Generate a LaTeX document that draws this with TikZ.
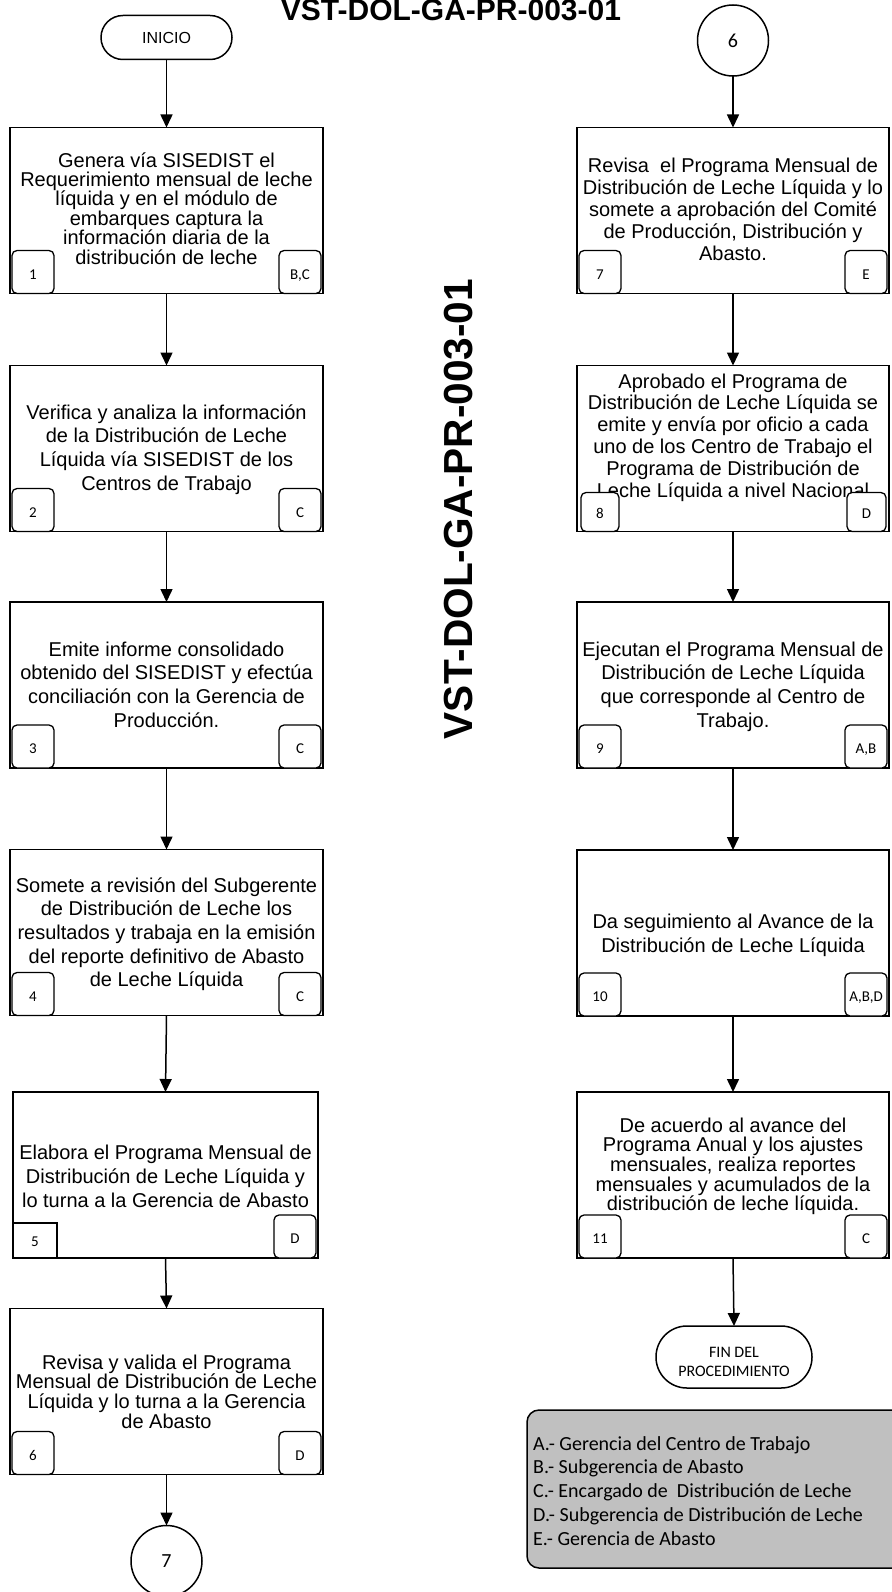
\documentclass[tikz,border=0pt]{standalone}
\usepackage{fontspec}
\setmainfont{Liberation Sans}
\newfontfamily\calfont{Carlito}
\usetikzlibrary{arrows.meta}

% centred block of lines with a fixed baseline distance; baseline of the node = first line
\newcommand\txtblock[2]{\vtop{\baselineskip=#1pt\lineskiplimit=-100pt\lineskip=0pt\let\\\cr\halign{\hfil##\hfil\cr#2\crcr}}}
% left aligned variant for the legend
\newcommand\txtleft[2]{\vtop{\baselineskip=#1pt\lineskiplimit=-100pt\lineskip=0pt\let\\\cr\halign{##\hfil\cr#2\crcr}}}

\definecolor{legendgray}{RGB}{192,192,192}

\tikzset{
  stepbox/.style={draw, fill=white, line width=1.6pt, minimum width=313pt, minimum height=166pt, inner sep=0pt, outer sep=0pt},
  rstepbox/.style={stepbox, minimum width=312pt},
  txt/.style={inner sep=0pt, outer sep=0pt, font=\fontsize{20}{24}\selectfont},
  tag/.style={draw, fill=white, line width=1.3pt, rounded corners=5pt, minimum width=42pt, minimum height=43pt, inner sep=0pt, outer sep=0pt, text height=14pt, text depth=0pt, font=\calfont\fontsize{15}{18}\selectfont},
  terminal/.style={draw, fill=white, line width=1.5pt, inner sep=0pt, outer sep=0pt},
  conn/.style={draw, circle, fill=white, line width=1.5pt, minimum size=71pt, inner sep=0pt, outer sep=0pt, font=\calfont\fontsize{20}{24}\selectfont},
  arr/.style={line width=1.5pt, -{Triangle[length=13pt,width=12pt]}},
}

\begin{document}
\begin{tikzpicture}[x=1pt,y=-1pt]
\useasboundingbox (0,0) rectangle (891,1592);

% headings
\node[anchor=base, inner sep=0pt, font=\bfseries\fontsize{30}{36}\selectfont] (title) at (451,21) {VST-DOL-GA-PR-003-01};
\node[anchor=base, inner sep=0pt, rotate=90, font=\bfseries\fontsize{40.6}{47}\selectfont] (vtitle) at (472,509) {VST-DOL-GA-PR-003-01};

% start / connectors / end
\node[terminal, rounded corners=21.9pt, minimum width=131pt, minimum height=44pt, font=\fontsize{16}{19}\selectfont] (ini) at (166.5,37.5) {INICIO};
\node[conn] (c6) at (733,40.5) {6};
\node[conn] (c7) at (166.5,1561) {7};
\node[terminal, rounded corners=30.9pt, minimum width=156pt, minimum height=62pt] (fin) at (734,1357) {};
\node[inner sep=0pt, anchor=base, font=\calfont\fontsize{16}{19}\selectfont] (fint) at (734,1357) {\txtblock{19}{FIN DEL\\PROCEDIMIENTO}};

% left column boxes
\node[stepbox] (b1) at (166.5,210.5) {};
\node[stepbox] (b2) at (166.5,448.5) {};
\node[stepbox] (b3) at (166.5,685) {};
\node[stepbox] (b4) at (166.5,932.5) {};
\node[stepbox, minimum width=305pt] (b5) at (165.5,1175) {};
\node[stepbox] (b6) at (166.5,1391.5) {};

% right column boxes
\node[rstepbox] (b7) at (733,210.5) {};
\node[rstepbox] (b8) at (733,448.5) {};
\node[rstepbox] (b9) at (733,685) {};
\node[rstepbox] (b10) at (733,933) {};
\node[rstepbox] (b11) at (733,1175) {};

% box texts
\node[txt, anchor=base] (t1) at (166.5,167) {\txtblock{19.4}{Genera vía SISEDIST el\\Requerimiento mensual de leche\\líquida y en el módulo de\\embarques captura la\\información diaria de la\\distribución de leche}};
\node[txt, anchor=base] (t2) at (166.5,419) {\txtblock{23.7}{Verifica y analiza la información\\de la Distribución de Leche\\Líquida vía SISEDIST de los\\Centros de Trabajo}};
\node[txt, anchor=base] (t3) at (166.5,656) {\txtblock{23.7}{Emite informe consolidado\\obtenido del SISEDIST y efectúa\\conciliación con la Gerencia de\\Producción.}};
\node[txt, anchor=base] (t4) at (166.5,892) {\txtblock{23.7}{Somete a revisión del Subgerente\\de Distribución de Leche los\\resultados y trabaja en la emisión\\del reporte definitivo de Abasto\\de Leche Líquida}};
\node[txt, anchor=base] (t5) at (165.5,1159) {\txtblock{24}{Elabora el Programa Mensual de\\Distribución de Leche Líquida y\\lo turna a la Gerencia de Abasto}};
\node[txt, anchor=base] (t6) at (166.5,1369) {\txtblock{19.7}{Revisa y valida el Programa\\Mensual de Distribución de Leche\\Líquida y lo turna a la Gerencia\\de Abasto}};
\node[txt, anchor=base] (t7) at (733,172) {\txtblock{22}{Revisa\ \ el Programa Mensual de\\Distribución de Leche Líquida y lo\\somete a aprobación del Comité\\de Producción, Distribución y\\Abasto.}};
\node[txt, anchor=base] (t8) at (733,388) {\txtblock{21.8}{Aprobado el Programa de\\Distribución de Leche Líquida se\\emite y envía por oficio a cada\\uno de los Centro de Trabajo el\\Programa de Distribución de\\Leche Líquida a nivel Nacional}};
\node[txt, anchor=base] (t9) at (733,656) {\txtblock{23.7}{Ejecutan el Programa Mensual de\\Distribución de Leche Líquida\\que corresponde al Centro de\\Trabajo.}};
\node[txt, anchor=base] (t10) at (733,928) {\txtblock{24}{Da seguimiento al Avance de la\\Distribución de Leche Líquida}};
\node[txt, anchor=base] (t11) at (733,1132) {\txtblock{19.7}{De acuerdo al avance del\\Programa Anual y los ajustes\\mensuales, realiza reportes\\mensuales y acumulados de la\\distribución de leche líquida.}};

% step numbers and responsible areas
\foreach \b/\n/\r in {b1/1/{B,C}, b2/2/C, b3/3/C, b4/4/C, b6/6/D, b7/7/E, b9/9/{A,B}, b10/10/{A,B,D}, b11/11/C}{
  \node[tag, anchor=south west] (\b n) at ([xshift=2pt]\b.south west) {\n};
  \node[tag, anchor=south east] (\b r) at ([xshift=-2pt]\b.south east) {\r};
}
\node[tag, sharp corners, minimum width=44pt, minimum height=35pt, text height=11pt, anchor=south west] (b5n) at (b5.south west) {5};
\node[tag, anchor=south east] (b5r) at ([xshift=-2pt]b5.south east) {D};
\node[tag, minimum width=38pt, minimum height=39pt, text height=12pt, anchor=south west] (b8n) at ([xshift=4pt]b8.south west) {8};
\node[tag, minimum width=39pt, minimum height=39pt, text height=12pt, anchor=south east] (b8r) at ([xshift=-3pt]b8.south east) {D};

% flow
\draw[arr] (ini) -- (b1);
\draw[arr] (b1) -- (b2);
\draw[arr] (b2) -- (b3);
\draw[arr] (b3) -- (b4);
\draw[arr] (b4.south) -- (b5.north);
\draw[arr] (b5.south) -- (b6.north);
\draw[arr] (b6) -- (c7);
\draw[arr] (c6) -- (b7);
\draw[arr] (b7) -- (b8);
\draw[arr] (b8) -- (b9);
\draw[arr] (b9) -- (b10);
\draw[arr] (b10) -- (b11);
\draw[arr] (b11.south) -- (fin.north);

% legend
\node[draw, fill=legendgray, line width=1.5pt, rounded corners=12pt, minimum width=380pt, minimum height=158pt, inner sep=0pt, outer sep=0pt, anchor=north west] (legend) at (527,1410) {};
\node[inner sep=0pt, anchor=base west, font=\calfont\fontsize{20}{24}\selectfont] (legtext) at (533,1450) {\txtleft{23.75}{A.- Gerencia del Centro de Trabajo\\B.- Subgerencia de Abasto\\C.- Encargado de\ \ Distribución de Leche\\D.- Subgerencia de Distribución de Leche\\E.- Gerencia de Abasto}};
\end{tikzpicture}
\end{document}
